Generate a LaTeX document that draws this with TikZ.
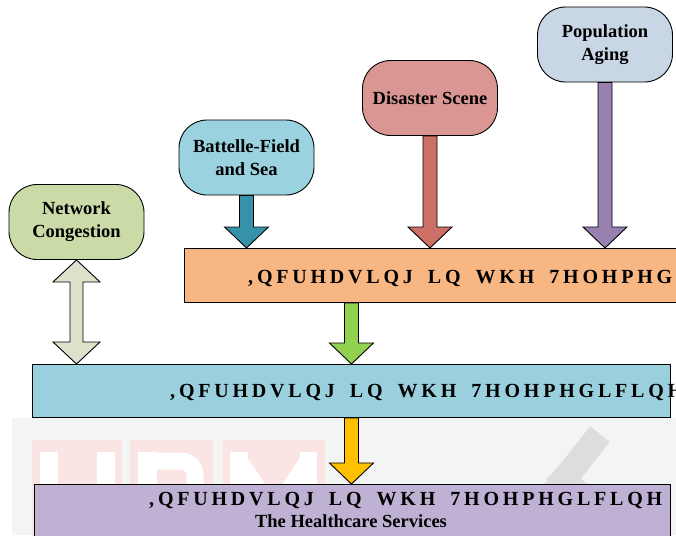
\documentclass[tikz,border=0pt]{standalone}
\usepackage{fontspec}
\setmainfont{Liberation Serif}
\usepackage{tikz}
\usetikzlibrary{positioning, calc}

\definecolor{ncgreen}{HTML}{CADBA8}
\definecolor{bfblue}{HTML}{9AD2E0}
\definecolor{dsred}{HTML}{DA9692}
\definecolor{pablue}{HTML}{C8D6E6}
\definecolor{orangebar}{HTML}{F8B683}
\definecolor{bluebar}{HTML}{9AD0DD}
\definecolor{purplebar}{HTML}{BFB1D4}
\definecolor{tealarrow}{HTML}{3592A8}
\definecolor{redarrow}{HTML}{CC6F67}
\definecolor{purplearrow}{HTML}{9880B0}
\definecolor{greenarrow}{HTML}{92D050}
\definecolor{yellowarrow}{HTML}{FFC000}
\definecolor{palearrow}{HTML}{DEE1CA}
\definecolor{wmgray}{HTML}{F3F4F4}
\definecolor{wmpink}{HTML}{FBE4E4}
\definecolor{wmcheck}{HTML}{DDDDDD}

\newcommand{\labelfont}{\fontsize{18.5}{23}\selectfont\bfseries}
\newcommand{\widefont}{\fontsize{20}{22}\selectfont\bfseries}

\makeatletter
\newcommand{\spreadword}[1]{\@tfor\spr@c:=#1\do{\spr@c\hspace{3.8pt}}\hspace{-3.8pt}}
\def\spreadline#1{\spr@words#1 \@nil}
\def\spr@words#1 #2\@nil{%
  \spreadword{#1}%
  \ifx\relax#2\relax\else\hspace{15pt}\spr@words#2\@nil\fi}
\makeatother

\newcommand{\vArrow}[3]{%
  \draw[blockarrow, fill=#3] let \p1=(#1), \p2=(#2) in
    (\x1-7pt,\y1) -- (\x1-7pt,\y2+21pt) -- (\x1-22pt,\y2+21pt) -- (\x2,\y2)
    -- (\x1+22pt,\y2+21pt) -- (\x1+7pt,\y2+21pt) -- (\x1+7pt,\y1) -- cycle;}

\begin{document}
\begin{tikzpicture}[
    x=1pt, y=-1pt,
    cloud/.style={
        draw,
        rounded corners=28pt,
        minimum width=135pt,
        minimum height=75pt,
        align=center,
        font=\labelfont,
        line width=0.9pt
    },
    bar/.style={draw, rectangle, line width=0.9pt, anchor=north west},
    spaced/.style={font=\widefont, anchor=base west, inner sep=0pt},
    blockarrow/.style={draw, line width=0.9pt, line join=miter},
    wmline/.style={white, line width=17pt}
]
\useasboundingbox (0,0) rectangle (676,535);

\fill[wmgray] (12,418) rectangle (676,535);
\fill[wmpink] (32,440) rectangle (122,545);
\fill[wmpink] (130,440) rectangle (213,545);
\fill[wmpink] (223,440) rectangle (325,545);
\fill[white] (40,452) rectangle (58,545);
\fill[white] (97,452) rectangle (115,545);
\fill[white] (138,452) rectangle (157,545);
\draw[wmline, rounded corners=14pt] (147,461) -- (195,461) -- (195,506) -- (147,506);
\fill[white] (230,452) rectangle (248,545);
\fill[white] (300,452) rectangle (317,545);
\draw[wmline] (239,461) -- (274,512) -- (308,461);
\draw[wmcheck, line width=25pt] (548,500) -- (600,434);
\draw[wmcheck, line width=25pt] (555,470) -- (585,500);

\node[cloud, fill=ncgreen] (nc) at (76.5,222) {Network\\Congestion};
\node[cloud, fill=bfblue] (bf) at (246.5,157.5) {Battelle-Field\\and Sea};
\node[cloud, fill=dsred] (ds) at (430,98) {Disaster Scene};
\node[cloud, fill=pablue] (pa) at (605,44.5) {Population\\Aging};

\node[bar, fill=orangebar, minimum width=491.5pt, minimum height=54pt] (ob) at (184,248) {};
\node[bar, fill=bluebar, minimum width=638pt, minimum height=53pt] (bb) at (32,364) {};
\node[bar, fill=purplebar, minimum width=636pt, minimum height=70pt] (pb) at (34,484) {};

\node[spaced] (obt) at (248,283) {\spreadline{,QFUHDVLQJ LQ WKH 7HOHPHG}};
\node[spaced] (bbt) at (170,397) {\spreadline{,QFUHDVLQJ LQ WKH 7HOHPHGLFLQH}};
\node[spaced] (pbt) at (149,505) {\spreadline{,QFUHDVLQJ LQ WKH 7HOHPHGLFLQH}};
\node[font=\labelfont, anchor=base] (hs) at (351,527) {The Healthcare Services};

\vArrow{bf.south}{bf.south |- ob.north}{tealarrow}
\vArrow{ds.south}{ds.south |- ob.north}{redarrow}
\vArrow{pa.south}{pa.south |- ob.north}{purplearrow}
\vArrow{bb.north |- ob.south}{bb.north}{greenarrow}
\vArrow{bb.south}{bb.south |- pb.north}{yellowarrow}

\draw[blockarrow, fill=palearrow] let \p1=(nc.south), \p2=(nc.south |- bb.north) in
    (\x1,\y1) -- (\x1+23.5pt,\y1-22pt) -- (\x1+6.5pt,\y1-22pt) -- (\x1+6.5pt,\y2+22pt)
    -- (\x1+23.5pt,\y2+22pt) -- (\x2,\y2) -- (\x1-23.5pt,\y2+22pt) -- (\x1-6.5pt,\y2+22pt)
    -- (\x1-6.5pt,\y1-22pt) -- (\x1-23.5pt,\y1-22pt) -- cycle;

\end{tikzpicture}
\end{document}
